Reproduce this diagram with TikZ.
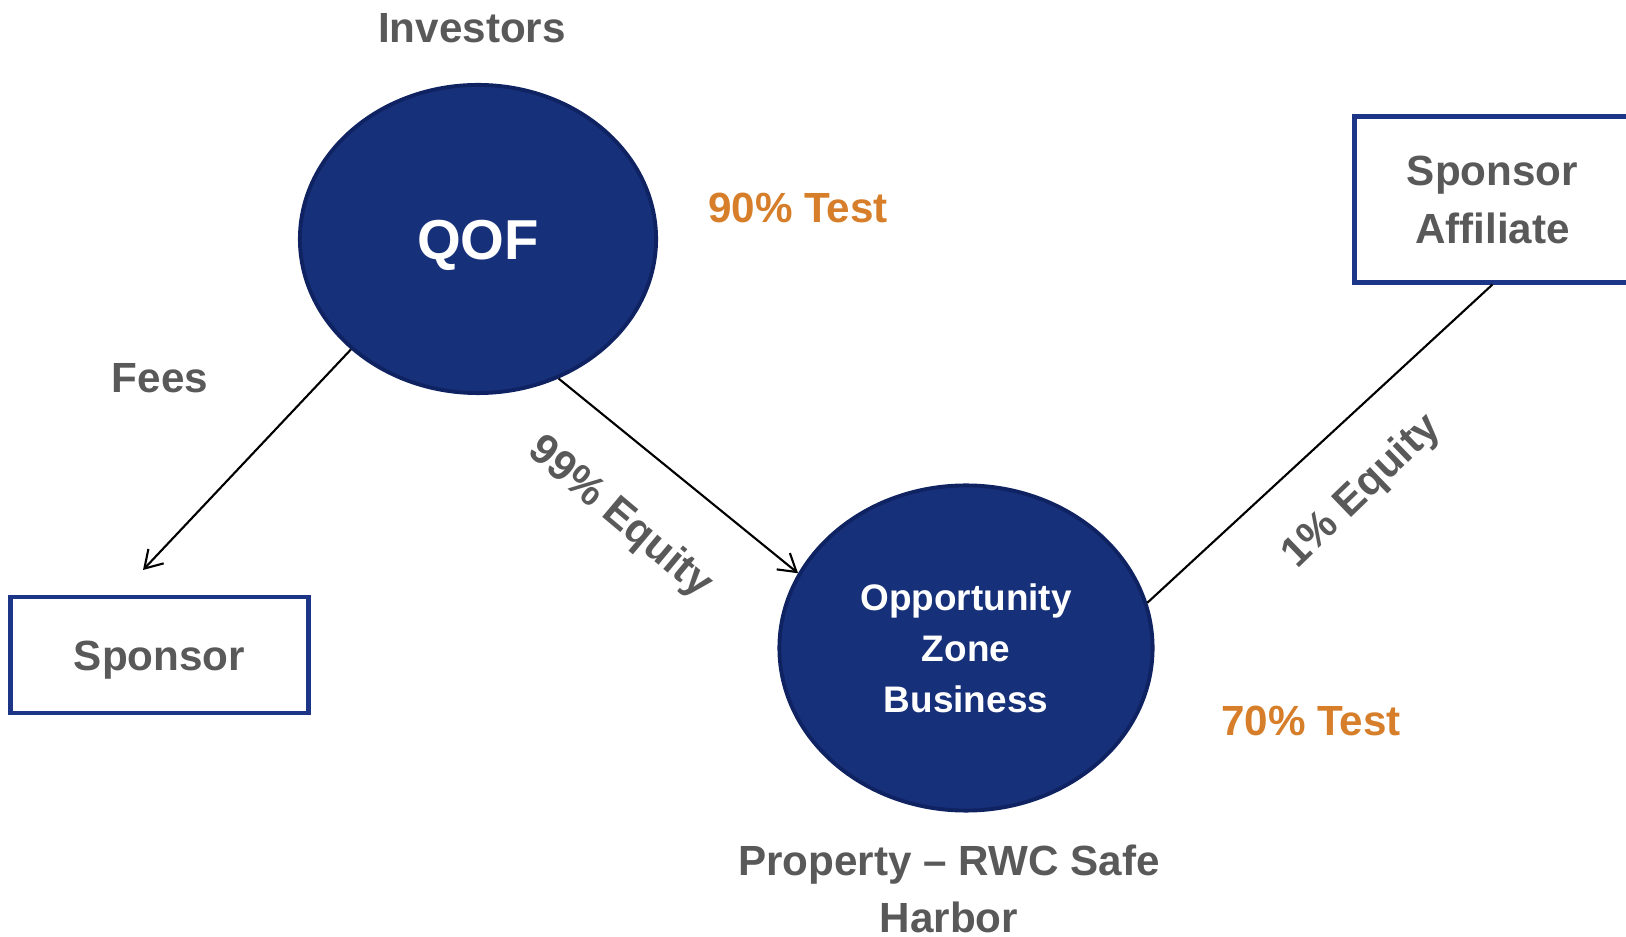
\documentclass[tikz,border=0pt]{standalone}
\usepackage{fontspec}
\setmainfont{Liberation Sans}
\usetikzlibrary{positioning,shapes.geometric,arrows.meta}

\definecolor{navy}{HTML}{17307A}
\definecolor{navyline}{HTML}{0F2262}
\definecolor{boxline}{HTML}{1C3586}
\definecolor{labelgray}{HTML}{595959}
\definecolor{testorange}{HTML}{D67E2A}

\begin{document}
\begin{tikzpicture}[x=0.01cm,y=-0.01cm,
      fundnode/.style={ellipse,draw=navyline,line width=1.1pt,fill=navy,text=white,align=center,inner sep=0pt},
      partybox/.style={rectangle,draw=boxline,line width=1.4pt,fill=white,text=labelgray,align=center,
        font=\fontsize{12}{16.5}\selectfont\bfseries},
      tag/.style={text=labelgray,align=center,inner sep=0pt,font=\fontsize{12}{16}\selectfont\bfseries},
      testtag/.style={text=testorange,inner sep=0pt,font=\fontsize{12}{14}\selectfont\bfseries},
      flow/.style={line width=0.6pt},
      flowarrow/.style={flow,-{Straight Barb[length=1.7mm,width=2.1mm]}}
    ]
    \useasboundingbox (0,0) rectangle (1626,937);

    % the fund and the business
    \node[fundnode,text height=11.5pt,text depth=0pt,minimum width=3.56cm,minimum height=3.08cm,
      font=\fontsize{16}{18}\selectfont\bfseries] (qof) at (478,239) {QOF};
    \node[fundnode,minimum width=3.73cm,minimum height=3.25cm,
      font=\fontsize{10.5}{14.5}\selectfont\bfseries] (ozb) at (966,648) {Opportunity\\Zone\\Business};

    % the sponsors
    \node[partybox,text height=8.6pt,text depth=0pt,minimum width=2.97cm,minimum height=1.16cm] (sponsor) at (159.5,655) {Sponsor};
    \node[partybox,minimum width=2.75cm,minimum height=1.65cm] (affiliate) at (1492.5,199.5) {Sponsor\\Affiliate};

    % the labels
    \node[tag] (investors) at (472,28) {Investors};
    \node[tag] (fees) at (160,378) {Fees};
    \node[tag] (property) at (949,889) {Property -- RWC Safe\\Harbor};
    \node[tag,rotate=-40] (bigshare) at (620,518) {99\% Equity};
    \node[tag,rotate=44] (smallshare) at (1362,492) {1\% Equity};
    \node[testtag] (fundtest) at (798,208) {90\% Test};
    \node[testtag] (bizpct) at (1311,721) {70\% Test};

    % the edges
    \coordinate (feesend) at (143,570);
    \draw[flowarrow] (qof.221) -- (feesend);
    \draw[flowarrow] (qof.300) -- (ozb.156);
    \draw[flow] (ozb.14.5) -- (affiliate.south);
\end{tikzpicture}
\end{document}
